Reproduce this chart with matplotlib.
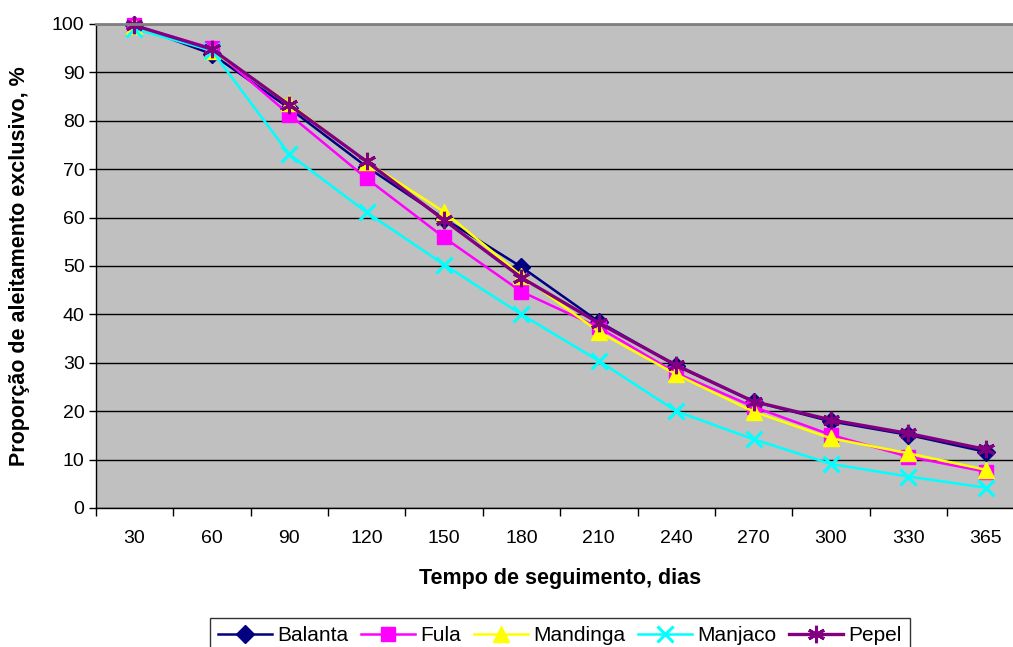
import numpy as np
import matplotlib
matplotlib.use("Agg")
import matplotlib.pyplot as plt

plt.rcParams['font.family'] = ['Liberation Sans', 'DejaVu Sans']

# follow-up time (days) and proportions (%) per ethnic group
dias = ['30', '60', '90', '120', '150', '180', '210', '240', '270', '300', '330', '365']
balanta = [99.7, 93.8, 82.6, 70.5, 59.8, 49.8, 38.5, 29.4, 22.0, 17.9, 15.1, 11.6]
fula = [99.7, 95.0, 81.3, 68.1, 55.9, 44.7, 37.3, 27.9, 20.9, 15.1, 10.6, 7.5]
mandinga = [99.5, 94.5, 83.6, 71.5, 61.2, 48.0, 36.4, 27.6, 19.9, 14.4, 11.3, 7.9]
manjaco = [99.0, 94.5, 73.1, 61.1, 50.3, 40.0, 30.4, 20.0, 14.2, 9.1, 6.5, 4.2]
pepel = [99.7, 94.8, 83.3, 71.6, 59.5, 47.6, 38.2, 29.5, 22.0, 18.2, 15.4, 12.1]

series = [
    ('Balanta', balanta, '#000080', 'D', 9, 1.8),
    ('Fula', fula, '#FF00FF', 's', 10.5, 1.8),
    ('Mandinga', mandinga, '#FFFF00', '^', 11, 1.8),
    ('Manjaco', manjaco, '#00FFFF', 'x', 11, 1.8),
    ('Pepel', pepel, '#800080', (6, 2, 0), 12.5, 2.4),
]

fig = plt.figure(figsize=(10.13, 6.47), dpi=100)
# plot area runs past the right edge, like the original screenshot
ax = fig.add_axes([95.7 / 1013, 1 - 508 / 647, 928.8 / 1013, 484 / 647])
ax.set_facecolor('#C0C0C0')

x = np.arange(len(dias))
for name, vals, col, mk, ms, lw in series:
    ax.plot(x, vals, color=col, marker=mk, markersize=ms, linewidth=lw,
            markeredgewidth=2.2 if mk in ('x', (6, 2, 0)) else 1,
            markeredgecolor=col, label=name, clip_on=False)

ax.set_xlim(-0.5, len(dias) - 0.5)
ax.set_ylim(0, 100)
ax.set_yticks(np.arange(0, 101, 10))
ax.yaxis.grid(True, color='black', linewidth=1)
ax.set_axisbelow(True)

# category labels in the middle, tick marks between categories
ax.set_xticks(np.arange(-0.5, len(dias), 1))
ax.set_xticklabels([])
ax.set_xticks(x, minor=True)
ax.set_xticklabels(dias, minor=True)
ax.tick_params(axis='x', which='major', direction='out', length=6, width=1)
ax.tick_params(axis='x', which='minor', length=0, pad=16, labelsize=14)
ax.tick_params(axis='y', direction='out', length=5, width=1, labelsize=14, pad=3)

for s in ('top', 'right'):
    ax.spines[s].set_color('#808080')
    ax.spines[s].set_linewidth(2)
for s in ('left', 'bottom'):
    ax.spines[s].set_color('black')
    ax.spines[s].set_linewidth(1)

ax.set_xlabel('Tempo de seguimento, dias', fontsize=15.5, fontweight='bold')
ax.set_ylabel('Proporção de aleitamento exclusivo, %', fontsize=15.5, fontweight='bold')
ax.xaxis.set_label_coords(0.5, (508 - 568) / 484)
ax.yaxis.set_label_coords((30 - 95.7) / 928.8, 0.5)

leg = fig.legend(loc='upper center', bbox_to_anchor=(560 / 1013, 1 - 617.5 / 647),
                 ncol=5, fontsize=15, frameon=True, fancybox=False,
                 edgecolor='black', handlelength=2.6, handletextpad=0.25,
                 columnspacing=0.6, borderpad=0.4, borderaxespad=0)
leg.get_frame().set_linewidth(1)

fig.savefig('out.png', dpi=100)
